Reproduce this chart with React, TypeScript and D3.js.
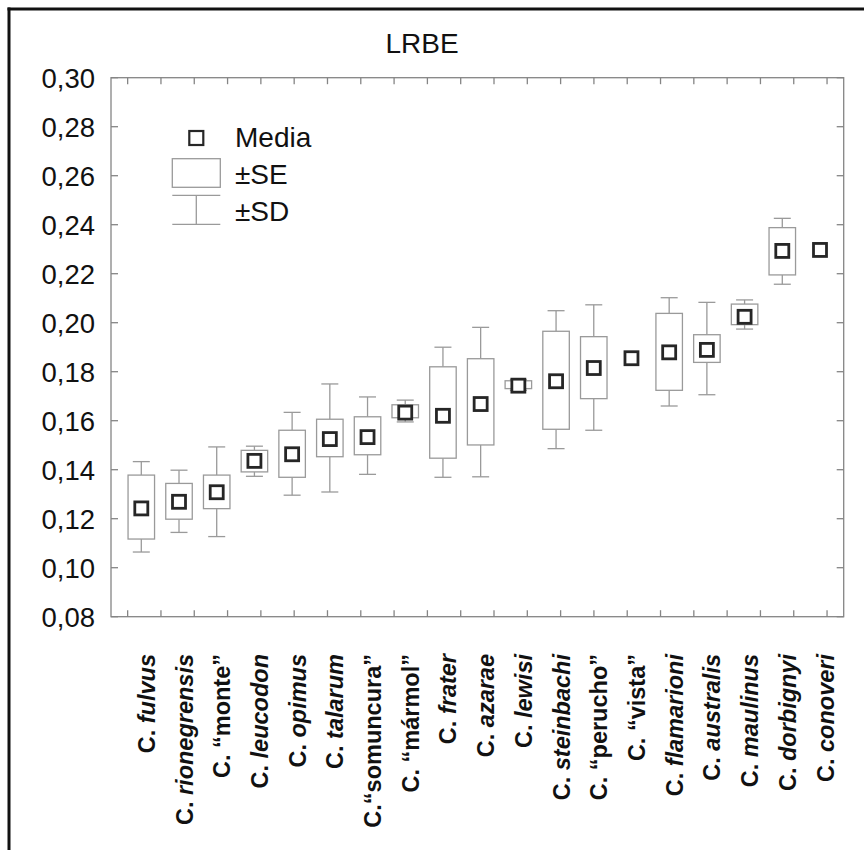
import React from "react";
import * as d3 from "d3";

const labels = [
  "C. fulvus", "C. rionegrensis", "C. “monte”", "C. leucodon", "C. opimus",
  "C. talarum", "C.“somuncura”", "C. “mármol”", "C. frater", "C. azarae",
  "C. lewisi", "C. steinbachi", "C. “perucho”", "C. “vista”", "C. flamarioni",
  "C. australis", "C. maulinus", "C. dorbignyi", "C. conoveri",
];
const means = [
  0.1242, 0.1269, 0.1308, 0.1436, 0.1463, 0.1525, 0.1533, 0.1633, 0.162, 0.1668,
  0.1743, 0.1761, 0.1815, 0.1855, 0.1879, 0.1889, 0.2024, 0.2293, 0.2297,
];
const seLow = [
  0.1117, 0.1198, 0.1241, 0.1391, 0.1369, 0.1453, 0.1461, 0.1612, 0.1447, 0.1501,
  0.1731, 0.1565, 0.169, null, 0.1724, 0.1838, 0.1992, 0.2195, null,
];
const seHigh = [
  0.1378, 0.1344, 0.1378, 0.1479, 0.1561, 0.1606, 0.1616, 0.1665, 0.182, 0.1853,
  0.1763, 0.1965, 0.1943, null, 0.2038, 0.1951, 0.2076, 0.2388, null,
];
const sdLow = [
  0.1064, 0.1144, 0.1127, 0.1373, 0.1296, 0.1309, 0.1381, 0.1595, 0.1369, 0.1371,
  0.1724, 0.1486, 0.1561, null, 0.166, 0.1706, 0.1974, 0.2157, null,
];
const sdHigh = [
  0.1433, 0.1398, 0.1493, 0.1496, 0.1634, 0.175, 0.1697, 0.1684, 0.19, 0.1981,
  0.1767, 0.2049, 0.2073, null, 0.2102, 0.2083, 0.2093, 0.2426, null,
];
const yTicks = [0.08, 0.1, 0.12, 0.14, 0.16, 0.18, 0.2, 0.22, 0.24, 0.26, 0.28, 0.3];
const title = "LRBE";
const legendItems = ["Media", "±SE", "±SD"];

const W = 864;
const H = 850;
const L = 111;
const R = 843.7;
const T = 77.7;
const B = 616.7;

const AXIS = "#858585";
const BOXC = "#9a9a9a";
const DARK = "#262626";
const FONT = "'Liberation Sans', Arial, Helvetica, sans-serif";

export default function App() {
  const y = d3.scaleLinear().domain([0.08, 0.3]).range([B, T]);
  const x = d3.scalePoint<string>().domain(labels).range([L + 30.3, R - 23.7]);
  const tickScale = d3.scaleBand<number>().domain(d3.range(22)).range([L, R]);
  const bw = tickScale.bandwidth();
  const boxW = 26.5;
  const capW = 17;
  const sq = 13;

  return (
    <svg
      width={W}
      height={H}
      style={{ position: "absolute", left: 0, top: 0, background: "#fff" }}
      fontFamily={FONT}
    >
      {/* frame (top & left only, cropped) */}
      <line x1={7.5} y1={9} x2={W} y2={9} stroke="#111" strokeWidth={3} />
      <line x1={9} y1={7.5} x2={9} y2={H} stroke="#111" strokeWidth={3} />

      {/* title */}
      <text x={422} y={53} fontSize={28} textAnchor="middle" fill="#111">
        {title}
      </text>

      {/* axes box */}
      <rect x={L} y={T} width={R - L} height={B - T} fill="none" stroke={AXIS} strokeWidth={1.3} />

      {/* y ticks */}
      {yTicks.map((t) => (
        <g key={t}>
          <line x1={L} x2={L + 7} y1={y(t)} y2={y(t)} stroke={AXIS} strokeWidth={1.3} />
          <line x1={R} x2={R - 7} y1={y(t)} y2={y(t)} stroke={AXIS} strokeWidth={1.3} />
          <text
            x={95}
            y={y(t)}
            dy="0.36em"
            fontSize={27.5}
            textAnchor="end"
            fill="#111"
          >
            {d3.format(".2f")(t).replace(".", ",")}
          </text>
        </g>
      ))}

      {/* x ticks */}
      {d3.range(22).map((i) => {
        const tx = (tickScale(i) as number) + bw / 2;
        return (
          <g key={i}>
            <line x1={tx} x2={tx} y1={T} y2={T + 6.5} stroke={AXIS} strokeWidth={1.3} />
            <line x1={tx} x2={tx} y1={B} y2={B - 6.5} stroke={AXIS} strokeWidth={1.3} />
          </g>
        );
      })}

      {/* boxes */}
      {labels.map((lab, i) => {
        const cx = x(lab) as number;
        const m = means[i];
        const sl = seLow[i];
        const sh = seHigh[i];
        const dl = sdLow[i];
        const dh = sdHigh[i];
        return (
          <g key={lab}>
            {sl != null && sh != null && dl != null && dh != null && (
              <g stroke={BOXC} strokeWidth={1.3} fill="none">
                <line x1={cx} x2={cx} y1={y(dh)} y2={y(sh)} />
                <line x1={cx} x2={cx} y1={y(sl)} y2={y(dl)} />
                <line x1={cx - capW / 2} x2={cx + capW / 2} y1={y(dh)} y2={y(dh)} />
                <line x1={cx - capW / 2} x2={cx + capW / 2} y1={y(dl)} y2={y(dl)} />
                <rect x={cx - boxW / 2} y={y(sh)} width={boxW} height={y(sl) - y(sh)} fill="#fff" />
              </g>
            )}
            <rect
              x={cx - sq / 2}
              y={y(m) - sq / 2}
              width={sq}
              height={sq}
              fill="#fff"
              stroke={DARK}
              strokeWidth={2.8}
            />
          </g>
        );
      })}

      {/* legend */}
      <rect x={189.3} y={131} width={14} height={14} fill="none" stroke={DARK} strokeWidth={2.2} />
      <rect x={172.3} y={158.7} width={48} height={28.6} fill="none" stroke={BOXC} strokeWidth={1.3} />
      <g stroke={BOXC} strokeWidth={1.3}>
        <line x1={172.3} x2={220.3} y1={195.3} y2={195.3} />
        <line x1={172.3} x2={220.3} y1={224.3} y2={224.3} />
        <line x1={196.3} x2={196.3} y1={195.3} y2={224.3} />
      </g>
      {legendItems.map((t, i) => (
        <text key={t} x={235} y={[146.7, 184, 221][i]} fontSize={28} fill="#111">
          {t}
        </text>
      ))}

      {/* category labels */}
      {labels.map((lab) => {
        const cx = (x(lab) as number) + 13.5;
        const prefix = lab.startsWith("C. ") ? "C. " : "C.";
        const rest = lab.slice(prefix.length);
        const quoted = rest.startsWith("“");
        return (
          <text
            key={lab}
            transform={`translate(${cx},654) rotate(-90)`}
            textAnchor="end"
            fontSize={23.5}
            fontWeight="bold"
            fill="#111"
            style={{ whiteSpace: "pre" }}
          >
            <tspan>{prefix}</tspan>
            <tspan fontStyle={quoted ? "normal" : "italic"}>{rest}</tspan>
          </text>
        );
      })}
    </svg>
  );
}
